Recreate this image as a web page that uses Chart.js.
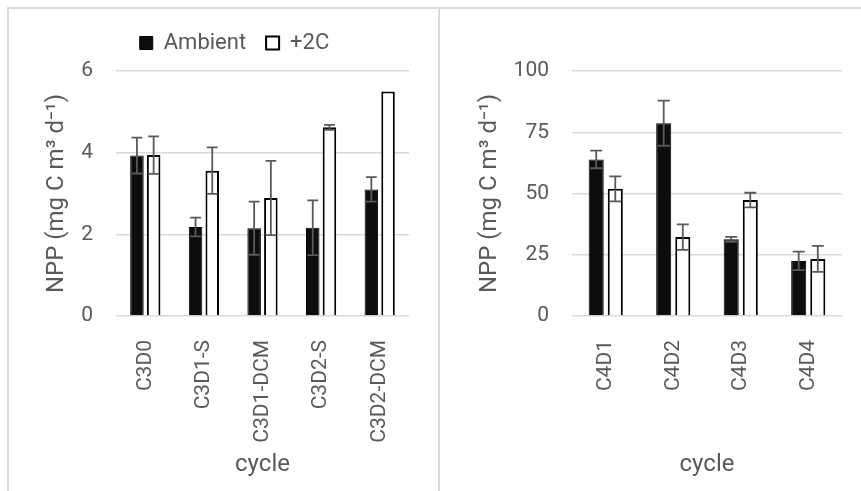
<!DOCTYPE html>
<html>
<head>
<meta charset="utf-8">
<script src="https://cdn.jsdelivr.net/npm/chart.js@4/dist/chart.umd.min.js"></script>
<style>
  html, body { margin: 0; padding: 0; background: #fff; }
  body { width: 861px; height: 491px; position: relative; overflow: hidden; }
  .line { position: absolute; background: #d9d9d9; }
  .panel { position: absolute; top: 9px; height: 482px; }
</style>
</head>
<body>
<div class="line" style="left:7px;top:7px;width:854px;height:2px"></div>
<div class="line" style="left:7px;top:7px;width:2px;height:484px"></div>
<div class="line" style="left:438px;top:7px;width:2px;height:484px"></div>
<div class="panel" style="left:9px;width:428px"><canvas id="c3"></canvas></div>
<div class="panel" style="left:440px;width:421px"><canvas id="c4"></canvas></div>
<script>
// cycle 3 stations
var c3Labels = ['C3D0', 'C3D1-S', 'C3D1-DCM', 'C3D2-S', 'C3D2-DCM'];
var c3Ambient = [3.93, 2.18, 2.15, 2.16, 3.10];
var c3AmbientErr = [0.44, 0.23, 0.65, 0.67, 0.30];
var c3Warm = [3.94, 3.56, 2.89, 4.62, 5.50];
var c3WarmErr = [0.46, 0.57, 0.91, 0.06, 0];
var c3Ticks = [0, 2, 4, 6];

// cycle 4 stations
var c4Labels = ['C4D1', 'C4D2', 'C4D3', 'C4D4'];
var c4Ambient = [63.9, 78.7, 31.3, 22.5];
var c4AmbientErr = [3.6, 9.2, 1.0, 3.8];
var c4Warm = [51.9, 32.2, 47.3, 23.3];
var c4WarmErr = [5.1, 5.2, 3.0, 5.3];
var c4Ticks = [0, 25, 50, 75, 100];

var FONT = 'Roboto, "Open Sans", sans-serif';
var GREY = '#595959';
var yTitle = 'NPP (mg C m\u00B3 d\u207B\u00B9)';

var errorBars = {
    id: 'errorBars',
    afterDatasetsDraw: function(chart) {
        var ctx = chart.ctx;
        var y = chart.scales.y;
        ctx.save();
        ctx.strokeStyle = GREY;
        ctx.lineWidth = 1.8;
        chart.data.datasets.forEach(function(ds, i) {
            chart.getDatasetMeta(i).data.forEach(function(bar, j) {
                var e = ds.errors[j];
                if (!e) return;
                var v = ds.data[j];
                var top = y.getPixelForValue(v + e);
                var bot = y.getPixelForValue(v - e);
                var cap = bar.width * 0.4;
                ctx.beginPath();
                ctx.moveTo(bar.x, top); ctx.lineTo(bar.x, bot);
                ctx.moveTo(bar.x - cap, top); ctx.lineTo(bar.x + cap, top);
                ctx.moveTo(bar.x - cap, bot); ctx.lineTo(bar.x + cap, bot);
                ctx.stroke();
            });
        });
        ctx.restore();
    }
};

// the legend sits a bit higher and further right than chart.js puts it
var nudgeLegend = {
    id: 'nudgeLegend',
    afterLayout: function(chart) {
        var l = chart.legend;
        if (!l || !l.options.display) return;
        l.top -= 7; l.bottom -= 7;
        l.left += 8; l.right += 8;
    }
};

function makeChart(id, labels, amb, ambErr, warm, warmErr, ticks, o) {
    return new Chart(document.getElementById(id).getContext('2d'), {
        type: 'bar',
        data: {
            labels: labels,
            datasets: [{
                label: 'Ambient',
                data: amb,
                errors: ambErr,
                backgroundColor: '#0d0d0d',
                borderColor: '#000',
                borderWidth: 1,
                categoryPercentage: o.cp,
                barPercentage: o.bp
            }, {
                label: '+2C',
                data: warm,
                errors: warmErr,
                backgroundColor: '#fff',
                borderColor: '#000',
                borderWidth: 2,
                categoryPercentage: o.cp,
                barPercentage: o.bp
            }]
        },
        options: {
            responsive: true,
            maintainAspectRatio: false,
            animation: false,
            layout: { padding: o.padding },
            plugins: {
                tooltip: { enabled: false },
                legend: {
                    display: o.legend,
                    position: 'top',
                    labels: {
                        color: GREY,
                        font: { family: FONT, size: 22 },
                        boxWidth: 13,
                        boxHeight: 13,
                        padding: 20
                    }
                }
            },
            scales: {
                x: {
                    grid: { display: false },
                    border: { display: false },
                    ticks: {
                        color: GREY,
                        font: { family: FONT, size: 21 },
                        minRotation: 90,
                        maxRotation: 90,
                        autoSkip: false,
                        padding: 16
                    },
                    title: {
                        display: true,
                        text: 'cycle',
                        color: GREY,
                        font: { family: FONT, size: 24 },
                        padding: { top: 0, bottom: 12 }
                    },
                    afterFit: function(s) { s.height = 175; }
                },
                y: {
                    min: 0,
                    max: ticks[ticks.length - 1],
                    afterBuildTicks: function(s) {
                        s.ticks = ticks.map(function(v) { return { value: v }; });
                    },
                    grid: { color: '#d9d9d9', lineWidth: 1.5, drawTicks: false },
                    border: { display: false },
                    ticks: {
                        color: GREY,
                        font: { family: FONT, size: 21 },
                        padding: 23
                    },
                    title: {
                        display: true,
                        text: yTitle,
                        color: GREY,
                        font: { family: FONT, size: 24 },
                        padding: { top: o.titlePad, bottom: 0 }
                    },
                    afterFit: function(s) { s.width = o.yWidth; }
                }
            }
        },
        plugins: [errorBars, nudgeLegend]
    });
}

makeChart('c3', c3Labels, c3Ambient, c3AmbientErr, c3Warm, c3WarmErr, c3Ticks, {
    cp: 0.57, bp: 0.81, legend: true,
    padding: { top: 10, left: 35, right: 28, bottom: 0 },
    yWidth: 72, titlePad: -1
});
makeChart('c4', c4Labels, c4Ambient, c4AmbientErr, c4Warm, c4WarmErr, c4Ticks, {
    cp: 0.565, bp: 0.79, legend: false,
    padding: { top: 62, left: 0, right: 19, bottom: 0 },
    yWidth: 132, titlePad: 36
});
</script>
</body>
</html>
